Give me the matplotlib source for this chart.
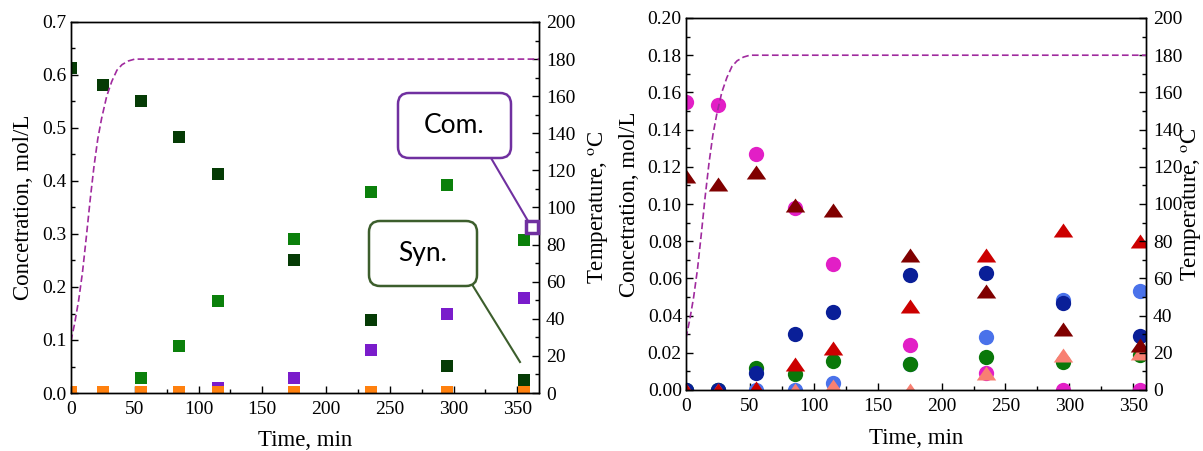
import matplotlib.pyplot as plt
from matplotlib.patches import FancyBboxPatch
from matplotlib.lines import Line2D
from matplotlib.ticker import MultipleLocator

plt.rcParams['font.family'] = 'Liberation Serif'
plt.rcParams['mathtext.fontset'] = 'stix'

# sampling times, min
time = [0, 25, 55, 85, 115, 175, 235, 295, 355]

# temperature profile
temp_time = [0, 3, 6, 9, 12, 15, 18, 21, 24, 28, 32, 36, 40, 45, 50, 60, 367]
temp_val = [28, 38, 50, 65, 84, 104, 122, 137, 148, 160, 168, 174, 177, 179, 180, 180, 180]

# left panel, mol/L
sq_dark_green = [0.613, 0.581, 0.551, 0.483, 0.413, 0.251, 0.138, 0.051, 0.025]
sq_green = [0.0, 0.0, 0.028, 0.089, 0.174, 0.291, 0.379, 0.392, 0.289]
sq_purple = [0.0, 0.0, 0.0, 0.0, 0.010, 0.028, 0.081, 0.149, 0.179]
sq_orange = [0.002, 0.002, 0.002, 0.002, 0.002, 0.002, 0.002, 0.002, 0.002]

# right panel, mol/L
c_light_blue = [0.0, 0.0, 0.0, 0.0, 0.004, 0.014, 0.0285, 0.0485, 0.053]
c_green = [0.0, 0.0, 0.0116, 0.0086, 0.0157, 0.014, 0.0177, 0.015, 0.019]
c_navy = [0.0, 0.0, 0.009, 0.030, 0.042, 0.062, 0.063, 0.047, 0.029]
c_magenta = [0.155, 0.153, 0.127, 0.098, 0.068, 0.024, 0.009, 0.0, 0.0]
t_salmon = [0.0, 0.0, 0.0, 0.0, 0.002, 0.0, 0.009, 0.019, 0.020]
t_red = [0.0, 0.0, 0.001, 0.014, 0.0226, 0.045, 0.0726, 0.086, 0.080]
t_dark_red = [0.115, 0.111, 0.117, 0.0995, 0.097, 0.0726, 0.053, 0.033, 0.024]

temp_color = '#a02a9e'
tri = [(0, 0.72), (-1, -0.72), (1, -0.72)]

fig = plt.figure(figsize=(12.03, 4.51), dpi=100)


def style_axes(ax, ax2, xmax, ymax, ymajor, yminor, ylabel_x, y2label_x):
    ax.set_xlim(0, xmax)
    ax.set_ylim(0, ymax)
    ax2.set_ylim(0, 200)
    ax.xaxis.set_major_locator(MultipleLocator(50))
    ax.xaxis.set_minor_locator(MultipleLocator(25))
    ax.yaxis.set_major_locator(MultipleLocator(ymajor))
    ax.yaxis.set_minor_locator(MultipleLocator(yminor))
    ax2.yaxis.set_major_locator(MultipleLocator(20))
    ax2.yaxis.set_minor_locator(MultipleLocator(10))
    ax.tick_params(which='both', direction='in', top=False, right=False, labelsize=14, width=1)
    ax.tick_params(which='major', length=5)
    ax.tick_params(which='minor', length=3)
    ax.tick_params(axis='x', pad=6)
    ax.tick_params(axis='y', pad=3)
    ax2.tick_params(which='both', direction='in', labelsize=14, width=1, pad=5)
    ax2.tick_params(which='major', length=5)
    ax2.tick_params(which='minor', length=3)
    for a in (ax, ax2):
        for s in a.spines.values():
            s.set_linewidth(1.0)
    ax.set_xlabel('Time, min', fontsize=16.5)
    ax.set_ylabel('Concetration, mol/L', fontsize=16.5)
    ax2.set_ylabel(r'Temperature, $^{\mathrm{o}}$C', fontsize=16.5)
    ax.xaxis.set_label_coords(0.5, -0.10)
    ax.yaxis.set_label_coords(ylabel_x, 0.5)
    ax2.yaxis.set_label_coords(y2label_x, 0.5)


# ---------- left panel ----------
ax1 = fig.add_axes([71 / 1203, 1 - 393 / 451, 468 / 1203, 371 / 451])
ax1b = ax1.twinx()
ms = 8.6
ax1.plot(time, sq_green, 's', color='#0b800b', ms=ms, mew=0)
ax1.plot(time, sq_dark_green, 's', color='#053b05', ms=ms, mew=0)
ax1.plot(time, sq_purple, 's', color='#7a1ccb', ms=ms, mew=0)
ax1.plot(time, sq_orange, 's', color='#ff800e', ms=ms, mew=0)
ax1b.plot(temp_time, temp_val, '--', color=temp_color, lw=1.2, dashes=(4, 2))
style_axes(ax1, ax1b, 367, 0.7, 0.1, 0.05, -0.08, 1.10)

# ---------- right panel ----------
ax2 = fig.add_axes([686 / 1203, 1 - 390 / 451, 460 / 1203, 372 / 451])
ax2b = ax2.twinx()
cm = 11
tm = 14
ax2.plot(time, c_light_blue, 'o', color='#4a72ea', ms=cm, mew=0)
ax2.plot(time, c_green, 'o', color='#0a780a', ms=cm, mew=0)
ax2.plot(time, c_navy, 'o', color='#0a1f98', ms=cm, mew=0)
ax2.plot(time, c_magenta, 'o', color='#e21fc6', ms=cm, mew=0)
ax2.plot(time, t_salmon, marker=tri, ls='none', color='#f88072', ms=tm, mew=0)
ax2.plot(time, t_red, marker=tri, ls='none', color='#cc0000', ms=tm, mew=0)
ax2.plot(time, t_dark_red, marker=tri, ls='none', color='#800000', ms=tm, mew=0)
ax2b.plot(temp_time, temp_val, '--', color=temp_color, lw=1.2, dashes=(4, 2))
style_axes(ax2, ax2b, 360, 0.2, 0.02, 0.01, -0.10, 1.073)
ax2.set_yticklabels(['%.2f' % v for v in ax2.get_yticks()])
ax2.xaxis.set_label_coords(0.5, -0.102)


# ---------- callouts (pixel positions / 100 -> inches) ----------
def callout(x0, y0, x1, y1, label, color, line):
    tr = fig.dpi_scale_trans
    box = FancyBboxPatch((x0 / 100, (451 - y1) / 100), (x1 - x0) / 100, (y1 - y0) / 100,
                         boxstyle='round,pad=0,rounding_size=0.11', transform=tr,
                         fc='white', ec=color, lw=1.8, zorder=10)
    fig.add_artist(box)
    fig.text((x0 + x1) / 2 / 100, (451 - (y0 + y1) / 2) / 100, label, transform=tr,
             ha='center', va='center', fontsize=19, family='Lato', zorder=11)
    fig.add_artist(Line2D([line[0] / 100, line[2] / 100],
                          [(451 - line[1]) / 100, (451 - line[3]) / 100],
                          transform=tr, color=color, lw=1.5, zorder=9))


callout(398, 93, 511, 158, 'Com.', '#7030a0', (491, 158, 528, 221))
callout(369, 221, 477, 286, 'Syn.', '#3c5e2c', (473, 286, 520, 362))
fig.add_artist(Line2D([532 / 100], [(451 - 227) / 100], transform=fig.dpi_scale_trans,
                      marker='s', ms=9, mfc='white', mec='#7030a0', mew=2.5, zorder=12))

fig.savefig('out.png', dpi=100)
